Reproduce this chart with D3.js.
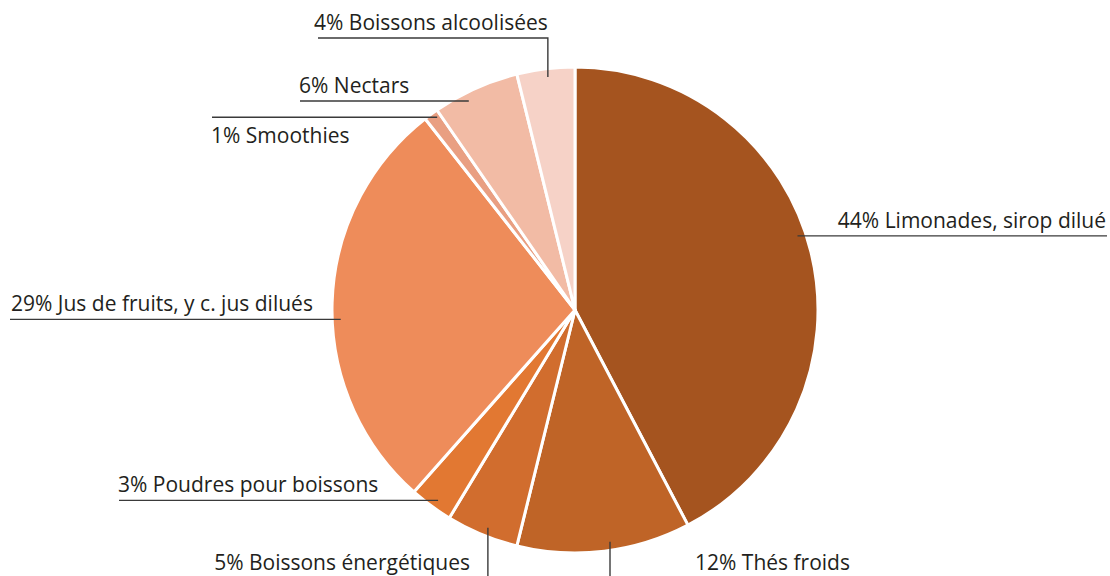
<!DOCTYPE html>
<html>
<head>
<meta charset="utf-8">
<script src="https://cdn.jsdelivr.net/npm/d3@7"></script>
<style>
  html, body { margin: 0; padding: 0; background: #ffffff; }
  svg { display: block; }
  text { font-family: "Open Sans", "Noto Sans", sans-serif; fill: #231f20; }
</style>
</head>
<body>
<svg id="chart" width="1110" height="576"></svg>
<script>
// ---- Data ----
const categories = [
  "Limonades, sirop dilué",
  "Thés froids",
  "Boissons énergétiques",
  "Poudres pour boissons",
  "Jus de fruits, y c. jus dilués",
  "Smoothies",
  "Nectars",
  "Boissons alcoolisées"
];
const values = [44, 12, 5, 3, 29, 1, 6, 4];
const colors = ["#a5541f", "#bf6427", "#d16d2e", "#e27832", "#ee8c5a", "#e99f82", "#f2bba5", "#f6d2c7"];

// ---- Layout for labels (annotation placement, not data) ----
const labelLayout = [
  { type: "right-above", t: 0.47, lineEnd: 1107, textX: 1106 },
  { type: "down", t: 0.46, textX: 695, anchor: "start" },
  { type: "down", t: 0.46, textX: 470, anchor: "end" },
  { type: "left-above", t: 0.44, lineStart: 119, textX: 118 },
  { type: "left-above", t: 0.46, lineStart: 10, textX: 11 },
  { type: "left-below", t: 0.6, lineStart: 212, textX: 211 },
  { type: "left-above", t: 0.37, lineStart: 300, textX: 299 },
  { type: "elbow", t: 0.52, lineStart: 318, lineY: 38, textX: 314 }
];

const W = 1110, H = 576;
const cx = 575, cy = 310, R = 243;
const svg = d3.select("#chart");
const g = svg.append("g").attr("transform", `translate(${cx},${cy})`);

const pie = d3.pie().sort(null).value(d => d.value);
const data = categories.map((c, i) => ({ name: c, value: values[i], color: colors[i], layout: labelLayout[i] }));
const arcs = pie(data);
const arc = d3.arc().innerRadius(0).outerRadius(R);

g.selectAll("path.slice")
  .data(arcs)
  .enter().append("path")
  .attr("class", "slice")
  .attr("d", arc)
  .attr("fill", d => d.data.color)
  .attr("stroke", "#ffffff")
  .attr("stroke-width", 3)
  .attr("stroke-linejoin", "round");

const fmt = v => `${v}% `;
const lines = svg.append("g").attr("fill", "none").attr("stroke", "#3a3a3a").attr("stroke-width", 1.4);
const labels = svg.append("g").attr("font-size", 21);

arcs.forEach(a => {
  const L = a.data.layout;
  const ang = a.startAngle + L.t * (a.endAngle - a.startAngle);
  const rr = R * 0.965;
  const px = cx + rr * Math.sin(ang);
  const py = cy - rr * Math.cos(ang);
  const txt = fmt(a.data.value) + a.data.name;
  if (L.type === "right-above") {
    lines.append("path").attr("d", `M${px},${py}H${L.lineEnd}`);
    labels.append("text").attr("x", L.textX).attr("y", py - 8).attr("text-anchor", "end").text(txt);
  } else if (L.type === "left-above") {
    lines.append("path").attr("d", `M${L.lineStart},${py}H${px}`);
    labels.append("text").attr("x", L.textX).attr("y", py - 8).attr("text-anchor", "start").text(txt);
  } else if (L.type === "left-below") {
    lines.append("path").attr("d", `M${L.lineStart},${py - 3}H${px}`);
    labels.append("text").attr("x", L.textX).attr("y", py + 23).attr("text-anchor", "start").text(txt);
  } else if (L.type === "elbow") {
    lines.append("path").attr("d", `M${L.lineStart},${L.lineY}H${px}V${py}`);
    labels.append("text").attr("x", L.textX).attr("y", L.lineY - 8).attr("text-anchor", "start").text(txt);
  } else if (L.type === "down") {
    lines.append("path").attr("d", `M${px},${py}V${H}`);
    labels.append("text").attr("x", L.textX).attr("y", H - 6).attr("text-anchor", L.anchor).text(txt);
  }
});
</script>
</body>
</html>
